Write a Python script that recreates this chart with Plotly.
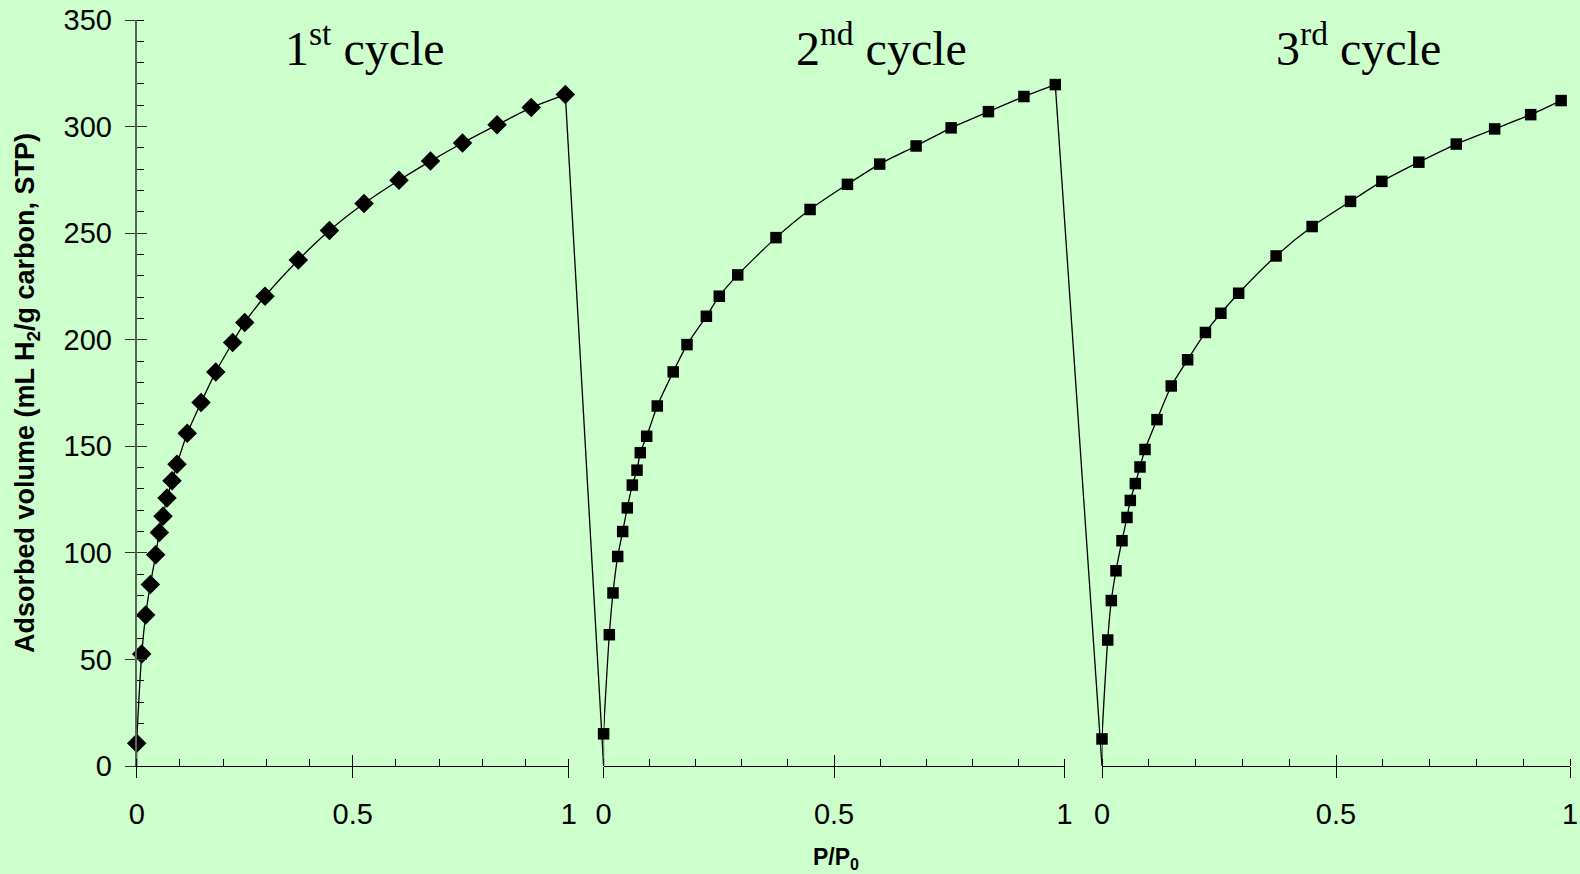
import plotly.graph_objects as go

# ---------------- data ----------------
c1_x = [0.0, 0.0116, 0.0208, 0.0315, 0.044, 0.0523, 0.0609, 0.0701, 0.0817, 0.0933,
        0.117, 0.149, 0.183, 0.222, 0.250, 0.297, 0.374, 0.446, 0.526, 0.607,
        0.680, 0.754, 0.834, 0.913, 0.992]
c1_y = [10.7, 52.6, 70.9, 85.1, 99.1, 109.6, 117.2, 125.7, 133.8, 141.6,
        156.1, 170.5, 184.9, 198.7, 208.1, 220.4, 237.4, 251.2, 263.9, 274.8,
        283.8, 292.3, 300.8, 308.9, 315.0]

c2_x = [0.0, 0.0124, 0.0204, 0.0306, 0.0414, 0.0514, 0.0623, 0.0725, 0.0796, 0.0935,
        0.1165, 0.151, 0.181, 0.223, 0.251, 0.291, 0.374, 0.448, 0.529, 0.599,
        0.678, 0.754, 0.835, 0.912, 0.980]
c2_y = [15.1, 61.6, 81.2, 98.3, 110.0, 121.1, 131.8, 138.8, 147.0, 154.7,
        168.9, 184.9, 197.7, 211.0, 220.4, 230.4, 247.9, 261.1, 272.9, 282.4,
        290.9, 299.4, 307.0, 314.1, 319.7]

c3_x = [0.0, 0.0122, 0.0199, 0.0299, 0.0427, 0.0534, 0.0605, 0.0712, 0.0812, 0.0919,
        0.1175, 0.148, 0.183, 0.221, 0.254, 0.292, 0.372, 0.449, 0.531, 0.598,
        0.677, 0.757, 0.839, 0.916, 0.981]
c3_y = [12.7, 59.1, 77.6, 91.6, 105.7, 116.6, 124.6, 132.5, 140.3, 148.5,
        162.5, 178.3, 190.6, 203.4, 212.4, 221.8, 239.3, 253.1, 264.9, 274.3,
        283.3, 291.8, 298.9, 305.6, 312.2]

origin = (0.0, 0.0)  # each cycle's curve starts at the origin (unmarked)

cycle_labels = ["1<sup>st</sup> cycle", "2<sup>nd</sup> cycle", "3<sup>rd</sup> cycle"]
cycle_label_x = [0.528, 0.604, 0.549]
cycle_label_y = 338.5
x_tickvals = [0, 0.5, 1]
x_ticktext = ["0", "0.5", "1"]
y_tickvals = [0, 50, 100, 150, 200, 250, 300, 350]

# ---------------- layout geometry ----------------
W, H = 1580, 874
BG = "#CCFFCC"
panels_px = [(136.7, 568.8), (603.6, 1064.5), (1102.0, 1570.0)]
y_top_px, y_bot_px = 20.0, 766.0

def fx(p):
    return p / W

def fy(p):
    return 1 - p / H

doms = [[fx(a), fx(b)] for a, b in panels_px]
ydom = [fy(y_bot_px), fy(y_top_px)]

fig = go.Figure()

line_style = dict(color="black", width=1.3, shape="spline", smoothing=0.6)
series = [(c1_x, c1_y, "diamond", 15), (c2_x, c2_y, "square", 11.5), (c3_x, c3_y, "square", 11.5)]
axes_names = ["x", "x2", "x3"]

# connectors between cycles, on gap axes sharing the left panel's scale
gap_axes = ["x7", "x8"]
gap_ranges = []
for i in range(2):
    a0, a1 = panels_px[i]
    b0 = panels_px[i + 1][0]
    gap_ranges.append([0, (b0 - a0) / (a1 - a0)])
conn_src = [(c1_x, c1_y), (c2_x, c2_y)]
for i, (xs, ys) in enumerate(conn_src):
    fig.add_trace(go.Scatter(x=[xs[-1], gap_ranges[i][1]], y=[ys[-1], origin[1]],
                             mode="lines", line=dict(color="black", width=1.3),
                             xaxis=gap_axes[i], yaxis="y", cliponaxis=False,
                             hoverinfo="skip", showlegend=False))

for (xs, ys, sym, sz), ax in zip(series, axes_names):
    fig.add_trace(go.Scatter(x=[origin[0]] + xs, y=[origin[1]] + ys, mode="lines",
                             line=line_style, xaxis=ax, yaxis="y",
                             cliponaxis=False, hoverinfo="skip", showlegend=False))
    fig.add_trace(go.Scatter(x=xs, y=ys, mode="markers",
                             marker=dict(symbol=sym, size=sz, color="black", line=dict(width=0)),
                             xaxis=ax, yaxis="y", cliponaxis=False, showlegend=False))

tickfont = dict(family="Liberation Sans, Arial", size=29, color="black")

def xaxis_main(dom):
    return dict(domain=dom, range=[0, 1], anchor="y", showgrid=False, zeroline=False,
                automargin=False,
                showline=True, linecolor="black", linewidth=1.3,
                tickmode="array", tickvals=x_tickvals, ticktext=x_ticktext,
                ticks="outside", ticklen=11, tickwidth=1.3, tickcolor="black",
                ticklabelstandoff=11, tickfont=tickfont,
                minor=dict(dtick=0.1, tick0=0, ticks="inside", ticklen=7,
                           tickwidth=1, tickcolor="black", showgrid=False))

def xaxis_over(dom, over):
    return dict(domain=dom, range=[0, 1], anchor="y", overlaying=over, showgrid=False,
                automargin=False,
                zeroline=False, showline=False, tickmode="array", tickvals=x_tickvals,
                ticks="inside", ticklen=11, tickwidth=1.3, tickcolor="black",
                showticklabels=False)

layout = dict(
    width=W, height=H, margin=dict(l=0, r=0, t=0, b=0, pad=0),
    paper_bgcolor=BG, plot_bgcolor="rgba(0,0,0,0)", showlegend=False,
    xaxis=xaxis_main(doms[0]), xaxis2=xaxis_main(doms[1]), xaxis3=xaxis_main(doms[2]),
    xaxis4=xaxis_over(doms[0], "x"), xaxis5=xaxis_over(doms[1], "x2"),
    xaxis6=xaxis_over(doms[2], "x3"),
    xaxis7=dict(domain=[doms[0][0], doms[1][0]], range=gap_ranges[0], anchor="y",
                visible=False, automargin=False),
    xaxis8=dict(domain=[doms[1][0], doms[2][0]], range=gap_ranges[1], anchor="y",
                visible=False, automargin=False),
    yaxis=dict(domain=ydom, range=[0, 350], anchor="x", showgrid=False, zeroline=False,
               automargin=False,
               showline=True, linecolor="#5a665a", linewidth=2,
               tickmode="array", tickvals=y_tickvals,
               ticks="outside", ticklen=10, tickwidth=1.3, tickcolor="#333",
               ticklabelstandoff=7, tickfont=tickfont,
               minor=dict(dtick=10, tick0=0, ticks="inside", ticklen=7,
                          tickwidth=1, tickcolor="black", showgrid=False)),
    yaxis2=dict(domain=ydom, range=[0, 350], anchor="x", overlaying="y", showgrid=False,
                automargin=False,
                zeroline=False, showline=False, tickmode="array", tickvals=y_tickvals,
                ticks="inside", ticklen=10, tickwidth=1.3, tickcolor="#333",
                showticklabels=False),
)
fig.update_layout(**layout)

# keep overlay axes drawn: attach an empty trace
for ax in ["x4", "x5", "x6"]:
    fig.add_trace(go.Scatter(x=[], y=[], xaxis=ax, yaxis="y2", showlegend=False))

annotations = []
for lbl, lx, ax in zip(cycle_labels, cycle_label_x, axes_names):
    annotations.append(dict(text=lbl, x=lx, y=cycle_label_y, xref=ax, yref="y",
                            showarrow=False, xanchor="center", yanchor="middle",
                            font=dict(family="Liberation Serif, Times New Roman",
                                      size=48, color="black")))
annotations.append(dict(text="<b>Adsorbed volume (mL H<sub>2</sub>/g carbon, STP)</b>",
                        x=fx(27), y=fy(393), xref="paper", yref="paper", textangle=-90,
                        showarrow=False, xanchor="center", yanchor="middle",
                        font=dict(family="Liberation Sans, Arial", size=27, color="black")))
annotations.append(dict(text="<b>P/P<sub>0</sub></b>",
                        x=fx(836), y=fy(858), xref="paper", yref="paper",
                        showarrow=False, xanchor="center", yanchor="middle",
                        font=dict(family="Liberation Sans, Arial", size=23, color="black")))
fig.update_layout(annotations=annotations)

fig.write_html("out.html")
